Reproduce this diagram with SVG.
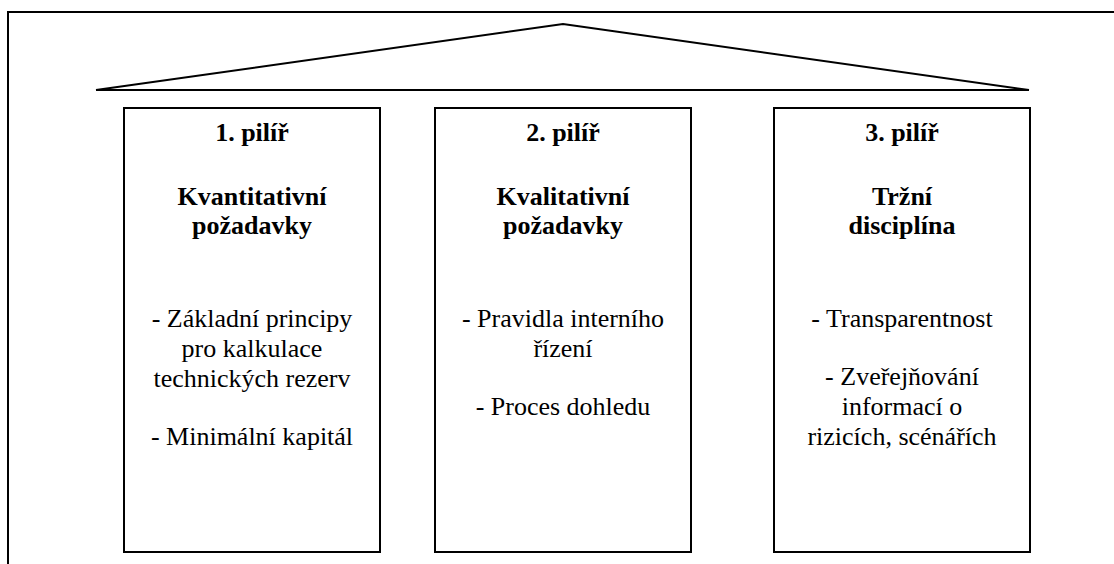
<svg xmlns="http://www.w3.org/2000/svg" width="1114" height="564" viewBox="0 0 1114 564">
<style>
.ln{fill:none;stroke:#000;stroke-width:2}
.box{fill:#fff;stroke:#000;stroke-width:2}
text{font-family:"Liberation Serif","Times New Roman",serif;font-size:26px;fill:#000;text-anchor:middle}
.b{font-weight:bold}
</style>
<rect width="1114" height="564" fill="#fff"/>
<g id="frame">
<polyline class="ln" points="8,564 8,12 1114,12" stroke-width="2.5"/>
</g>
<g id="roof">
<polyline class="ln" points="96,90 563,24 1029,90"/>
<line class="ln" x1="96" y1="90" x2="1029" y2="90" stroke-width="1.5"/>
</g>
<g id="pillar1">
<rect class="box" x="124" y="108" width="256" height="444"/>
<text class="b" x="252" y="141">1. pilíř</text>
<text class="b" x="252" y="205">Kvantitativní</text>
<text class="b" x="252" y="234">požadavky</text>
<text x="252" y="327">- Základní principy</text>
<text x="252" y="357">pro kalkulace</text>
<text x="252" y="387">technických rezerv</text>
<text x="252" y="445">- Minimální kapitál</text>
</g>
<g id="pillar2">
<rect class="box" x="435" y="108" width="256" height="444"/>
<text class="b" x="563" y="141">2. pilíř</text>
<text class="b" x="563" y="205">Kvalitativní</text>
<text class="b" x="563" y="234">požadavky</text>
<text x="563" y="327">- Pravidla interního</text>
<text x="563" y="357">řízení</text>
<text x="563" y="415">- Proces dohledu</text>
</g>
<g id="pillar3">
<rect class="box" x="774" y="108" width="256" height="444"/>
<text class="b" x="902" y="141">3. pilíř</text>
<text class="b" x="902" y="205">Tržní</text>
<text class="b" x="902" y="234">disciplína</text>
<text x="902" y="327">- Transparentnost</text>
<text x="902" y="385">- Zveřejňování</text>
<text x="902" y="415">informací o</text>
<text x="902" y="445">rizicích, scénářích</text>
</g>
</svg>
